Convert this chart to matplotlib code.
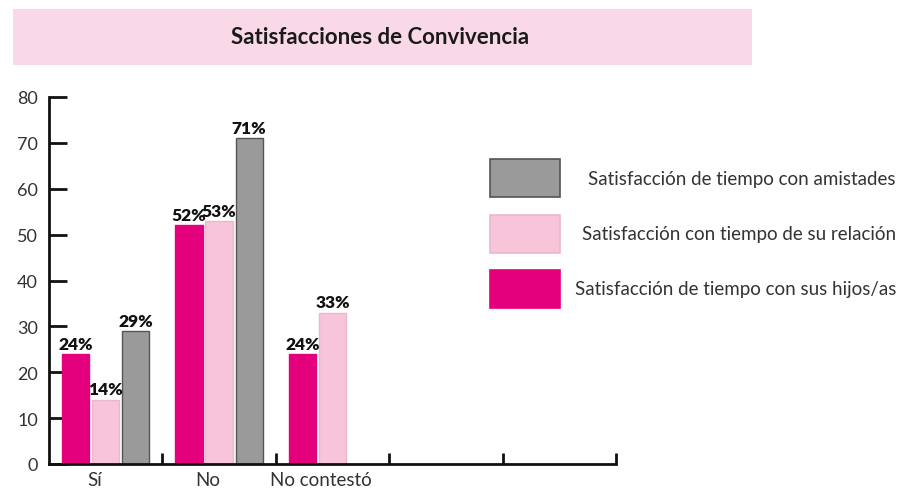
import numpy as np
import matplotlib
matplotlib.use("Agg")
import matplotlib.pyplot as plt
from matplotlib.patches import Rectangle

plt.rcParams['font.family'] = ['Lato', 'DejaVu Sans']

# data
categories = ['Sí', 'No', 'No contestó', '', '']
series_names = ['Satisfacción de tiempo con sus hijos/as',
                'Satisfacción con tiempo de su relación',
                'Satisfacción de tiempo con amistades']
hijos = [24, 52, 24, None, None]
relacion = [14, 53, 33, None, None]
amistades = [29, 71, None, None, None]
colors = ['#e4007c', '#f7c4da', '#9a9a9a']
edges = ['#e4007c', '#e9b8cc', '#555555']

fig = plt.figure(figsize=(9.01, 4.89), dpi=100)

# title band
fig.patches.append(Rectangle((13 / 901, 1 - 66 / 489), (752 - 13) / 901, 56 / 489,
                             transform=fig.transFigure, facecolor='#f9d9e8',
                             edgecolor='none', zorder=0))
fig.text(380 / 901, 1 - 37 / 489, 'Satisfacciones de Convivencia', ha='center',
         va='center', fontsize=16, fontweight='bold', color='#1a1a1a')

ax = fig.add_axes([49 / 901, 24 / 489, 567 / 901, 367 / 489])

width = 0.24
step = 0.265
centers = np.arange(len(categories)) + 0.5
for k, vals in enumerate([hijos, relacion, amistades]):
    xs = [c + (k - 1) * step for c, v in zip(centers, vals) if v is not None]
    ys = [v for v in vals if v is not None]
    bars = ax.bar(xs, ys, width=width, color=colors[k], edgecolor=edges[k],
                  linewidth=1, zorder=2)
    for b, v in zip(bars, ys):
        ax.text(b.get_x() + b.get_width() / 2, v + 0.5, f'{v}%', ha='center',
                va='bottom', fontsize=12.5, fontweight='heavy', color='#111111')

ax.set_xlim(0, 5)
ax.set_ylim(0, 80)
ax.set_yticks(range(0, 81, 10))
ax.set_xticks([1, 2, 3, 4, 5])
ax.set_xticklabels([])
ax.set_xticks(centers - 0.1, minor=True)
ax.set_xticklabels(categories, minor=True)
ax.tick_params(axis='x', which='major', direction='in', length=8, width=2, color='#111')
ax.tick_params(axis='x', which='minor', length=0, pad=5, labelsize=13.5, labelcolor='#333')
ax.tick_params(axis='y', direction='in', length=13, width=2, color='#111', pad=8,
               labelsize=13, labelcolor='#333')

for s in ['top', 'right']:
    ax.spines[s].set_visible(False)
for s in ['left', 'bottom']:
    ax.spines[s].set_linewidth(2)
    ax.spines[s].set_color('#111')

# legend boxes on the right
legend_rows = [(2, 179), (1, 235), (0, 290)]
for k, yc in legend_rows:
    fig.patches.append(Rectangle((490 / 901, 1 - (yc + 19) / 489), 70 / 901, 38 / 489,
                                 transform=fig.transFigure, facecolor=colors[k],
                                 edgecolor=edges[k], linewidth=1.2, zorder=3))
    fig.text(896 / 901, 1 - yc / 489, series_names[k], ha='right', va='center',
             fontsize=13.5, color='#333')

fig.savefig('out.png', dpi=100)
